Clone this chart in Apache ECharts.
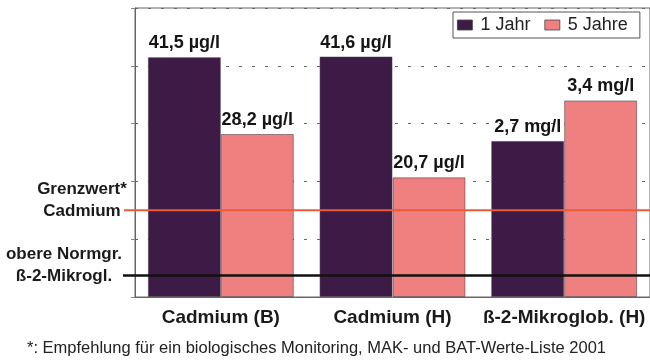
<!DOCTYPE html>
<html>
<head>
<meta charset="utf-8">
<script src="https://cdn.jsdelivr.net/npm/echarts@6/dist/echarts.min.js"></script>
<style>
  html, body { margin: 0; padding: 0; background: #fff; }
  #chart { width: 650px; height: 361px; }
</style>
</head>
<body>
<div id="chart"></div>
<script>
// Biomonitoring results after 1 and 5 years
const categories = ['Cadmium (B)', 'Cadmium (H)', 'ß-2-Mikroglob. (H)'];
const seriesNames = ['1 Jahr', '5 Jahre'];
const oneYear = [41.5, 41.6, 2.7];
const fiveYears = [28.2, 20.7, 3.4];
const units = ['µg/l', 'µg/l', 'mg/l'];
// mg/l values share the value axis at 10 axis units per mg/l
const axisFactor = [1, 1, 10];
const yTicks = [0, 10, 20, 30, 40, 50];

// reference levels
const cadmiumLimit = 15;     // µg/l, category 0 scale
const b2mUpperNorm = 0.37;   // mg/l, category 2 scale
const refLabels = [['Grenzwert*', 'Cadmium'], ['obere Normgr.', 'ß-2-Mikrogl.']];
const footnote = '*: Empfehlung für ein biologisches Monitoring, MAK- und BAT-Werte-Liste 2001';

const FONT = '"Liberation Sans", Arial, Helvetica, sans-serif';
const COLORS = ['#3e1a46', '#f08080'];

const fmt = v => v.toFixed(1).replace('.', ',');

function barSeries(name, values, color) {
  return {
    name: name,
    type: 'bar',
    data: values.map((v, i) => v * axisFactor[i]),
    barGap: '0%',
    barCategoryGap: '15%',
    itemStyle: { color: color, borderColor: 'rgba(70,60,70,0.55)', borderWidth: 1 },
    label: {
      show: true,
      position: 'top',
      distance: 5,
      fontFamily: FONT,
      fontWeight: 'bold',
      fontSize: 18,
      color: '#151515',
      formatter: p => fmt(values[p.dataIndex]) + ' ' + units[p.dataIndex]
    },
    emphasis: { disabled: true }
  };
}

const chart = echarts.init(document.getElementById('chart'), null, { renderer: 'canvas' });

chart.setOption({
  animation: false,
  backgroundColor: '#fff',
  textStyle: { fontFamily: FONT },
  grid: {
    left: 135, top: 8, width: 516, height: 289,
    show: true, borderColor: '#666', borderWidth: 1, backgroundColor: '#fff'
  },
  legend: {
    data: seriesNames,
    left: 453, top: 12,
    padding: [4, 12, 4, 4],
    itemWidth: 15, itemHeight: 10, itemGap: 14,
    icon: 'rect',
    borderColor: '#555', borderWidth: 1,
    backgroundColor: '#fff',
    itemStyle: { borderColor: '#444', borderWidth: 0.8 },
    textStyle: { fontFamily: FONT, fontSize: 18, color: '#222', padding: [0, 0, 0, 3] }
  },
  xAxis: {
    type: 'category',
    data: categories,
    axisLine: { show: true, lineStyle: { color: '#666', width: 1 } },
    axisTick: { show: false },
    axisLabel: {
      interval: 0,
      margin: 11, fontFamily: FONT, fontWeight: 'bold', fontSize: 19, color: '#1a1a1a'
    },
    splitLine: { show: false }
  },
  yAxis: {
    type: 'value',
    min: yTicks[0],
    max: yTicks[yTicks.length - 1],
    interval: yTicks[1] - yTicks[0],
    axisLine: { show: true, lineStyle: { color: '#666', width: 1 } },
    axisTick: { show: true, length: 4, lineStyle: { color: '#888' } },
    axisLabel: { show: false },
    splitLine: { show: true, lineStyle: { color: '#666', width: 1, type: [3, 10] } }
  },
  series: [
    barSeries(seriesNames[0], oneYear, COLORS[0]),
    barSeries(seriesNames[1], fiveYears, COLORS[1])
  ]
});

// Reference lines, placed through the value axis
const refValues = [cadmiumLimit * axisFactor[0], b2mUpperNorm * axisFactor[2]];
const refColors = ['#ee5a38', '#111'];
const refWidths = [2, 2.5];
const refStarts = [124, 123];
const refTextCenters = [82, 64];

const graphics = [];
refValues.forEach((v, k) => {
  const y = chart.convertToPixel({ yAxisIndex: 0 }, v);
  graphics.push({
    type: 'line', z: 100,
    shape: { x1: refStarts[k], y1: y, x2: 650, y2: y },
    style: { stroke: refColors[k], lineWidth: refWidths[k] }
  });
  graphics.push({
    type: 'text', z: 100,
    x: refTextCenters[k], y: y - 21,
    style: {
      text: refLabels[k][0], align: 'center', verticalAlign: 'middle',
      font: 'bold 17px ' + FONT, fill: '#1a1a1a'
    }
  });
  graphics.push({
    type: 'text', z: 100,
    x: refTextCenters[k], y: y + 1,
    style: {
      text: refLabels[k][1], align: 'center', verticalAlign: 'middle',
      font: 'bold 17px ' + FONT, fill: '#1a1a1a'
    }
  });
});
graphics.push({
  type: 'text', z: 100,
  x: 27, y: 348,
  style: {
    text: footnote, align: 'left', verticalAlign: 'middle',
    font: '16.5px ' + FONT, fill: '#222'
  }
});

chart.setOption({ graphic: graphics });
</script>
</body>
</html>
